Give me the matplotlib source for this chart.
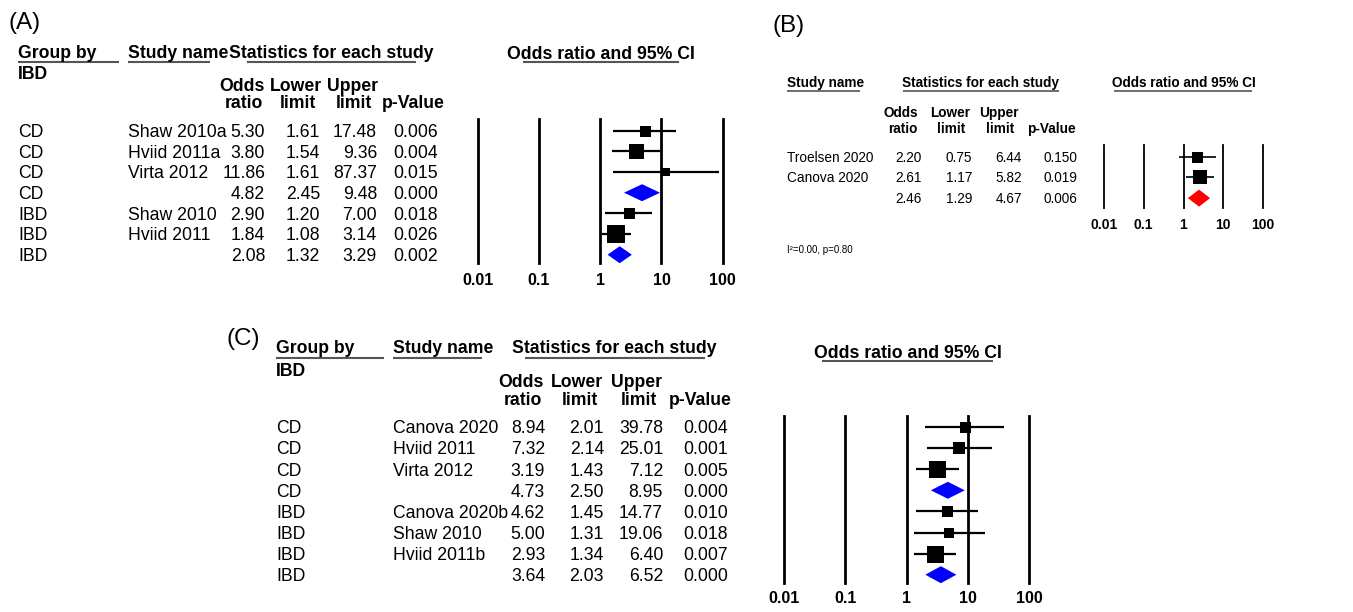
import numpy as np
import matplotlib
matplotlib.use('Agg')
import matplotlib.pyplot as plt

plt.rcParams['font.family'] = ['Liberation Sans', 'DejaVu Sans']

# ---- data: panel A (Group by IBD) ----
A_group = ['CD', 'CD', 'CD', 'CD', 'IBD', 'IBD', 'IBD']
A_study = ['Shaw 2010a', 'Hviid 2011a', 'Virta 2012', '', 'Shaw 2010', 'Hviid 2011', '']
A_or = [5.30, 3.80, 11.86, 4.82, 2.90, 1.84, 2.08]
A_lo = [1.61, 1.54, 1.61, 2.45, 1.20, 1.08, 1.32]
A_hi = [17.48, 9.36, 87.37, 9.48, 7.00, 3.14, 3.29]
A_p = [0.006, 0.004, 0.015, 0.000, 0.018, 0.026, 0.002]
A_summary = [False, False, False, True, False, False, True]
A_box = [11, 15, 8, 0, 11, 18, 0]

# ---- data: panel B ----
B_study = ['Troelsen 2020', 'Canova 2020', '']
B_or = [2.20, 2.61, 2.46]
B_lo = [0.75, 1.17, 1.29]
B_hi = [6.44, 5.82, 4.67]
B_p = [0.150, 0.019, 0.006]
B_summary = [False, False, True]
B_box = [11, 14, 0]
B_het = 'I\u00b2=0.00, p=0.80'

# ---- data: panel C (Group by IBD) ----
C_group = ['CD', 'CD', 'CD', 'CD', 'IBD', 'IBD', 'IBD', 'IBD']
C_study = ['Canova 2020', 'Hviid 2011', 'Virta 2012', '', 'Canova 2020b',
           'Shaw 2010', 'Hviid 2011b', '']
C_or = [8.94, 7.32, 3.19, 4.73, 4.62, 5.00, 2.93, 3.64]
C_lo = [2.01, 2.14, 1.43, 2.50, 1.45, 1.31, 1.34, 2.03]
C_hi = [39.78, 25.01, 7.12, 8.95, 14.77, 19.06, 6.40, 6.52]
C_p = [0.004, 0.001, 0.005, 0.000, 0.010, 0.018, 0.007, 0.000]
C_summary = [False, False, False, True, False, False, False, True]
C_box = [11, 12, 17, 0, 11, 10, 17, 0]

scale_ticks = [0.01, 0.1, 1, 10, 100]
scale_labels = ['0.01', '0.1', '1', '10', '100']

W, H = 1353, 612
fig = plt.figure(figsize=(W / 100, H / 100), dpi=100)

# overlay in pixel coords for the table text
bg = fig.add_axes([0, 0, 1, 1])
bg.set_xlim(0, W)
bg.set_ylim(H, 0)
bg.axis('off')

UL = '#555555'


def underline(x0, x1, y, lw=1.5):
    bg.plot([x0, x1], [y, y], color=UL, lw=lw, solid_capstyle='butt')


def forest(x0, x1, ytop, ybot, row0, drow, ors, los, his, summ, box,
           dcolor, vlw, cilw, tick_fs, tick_pad):
    ax = fig.add_axes([x0 / W, 1 - ybot / H, (x1 - x0) / W, (ybot - ytop) / H])
    ax.patch.set_alpha(0)
    ax.set_xscale('log')
    ax.set_xlim(scale_ticks[0], scale_ticks[-1])
    ax.set_ylim((ybot - row0) / drow, (ytop - row0) / drow)
    for s in ax.spines.values():
        s.set_visible(False)
    for t in scale_ticks:
        ax.axvline(t, color='black', lw=vlw, clip_on=False, zorder=1)
    ax.minorticks_off()
    ax.set_xticks(scale_ticks, scale_labels)
    ax.tick_params(axis='x', length=0, pad=tick_pad, labelsize=tick_fs)
    for lab in ax.get_xticklabels():
        lab.set_fontweight('bold')
    ax.set_yticks([])
    rows = np.arange(len(ors))
    hd = 8.5 / drow
    for r in rows:
        if summ[r]:
            ax.fill([los[r], ors[r], his[r], ors[r]], [r, r - hd, r, r + hd],
                    color=dcolor, lw=0, zorder=3, clip_on=False)
        else:
            ax.hlines(r, los[r], his[r], color='black', lw=cilw, zorder=2,
                      clip_on=False)
            ax.scatter([ors[r]], [r], marker='s', s=(box[r] * 0.72) ** 2,
                       color='black', zorder=4, clip_on=False, linewidths=0)
    return ax


def table(rows_base, drow, cols, fs, bold=False):
    for i in range(len(cols[0][1])):
        y = rows_base + i * drow
        for x, vals, ha in cols:
            bg.text(x, y, vals[i], ha=ha, va='baseline', fontsize=fs,
                    fontweight='bold' if bold else 'normal')


# ---------------- panel A ----------------
FS = 12.7
bg.text(8, 28.5, '(A)', fontsize=17.5, va='baseline')
bg.text(18, 57.5, 'Group by', fontsize=FS, fontweight='bold', va='baseline')
bg.text(128, 57.5, 'Study name', fontsize=FS, fontweight='bold', va='baseline')
bg.text(229, 57.5, 'Statistics for each study', fontsize=FS, fontweight='bold', va='baseline')
underline(18, 119, 61.7)
underline(128, 210, 61.7)
underline(247, 416, 61.7)
bg.text(18, 79, 'IBD', fontsize=FS, fontweight='bold', va='baseline')
for xc, top, bot in [(242, 'Odds', 'ratio'), (296, 'Lower', 'limit'),
                     (352, 'Upper', 'limit')]:
    bg.text(xc, 90.7, top, fontsize=FS, fontweight='bold', ha='center', va='baseline')
    bg.text(xc + 2, 108, bot, fontsize=FS, fontweight='bold', ha='center', va='baseline')
bg.text(413, 108, 'p-Value', fontsize=FS, fontweight='bold', ha='center', va='baseline')
bg.text(600.5, 59, 'Odds ratio and 95% CI', fontsize=FS, fontweight='bold',
        ha='center', va='baseline')
underline(523, 679, 62.3)
table(137, 20.67, [
    (18, A_group, 'left'),
    (128, A_study, 'left'),
    (265, ['%.2f' % v for v in A_or], 'right'),
    (320, ['%.2f' % v for v in A_lo], 'right'),
    (377, ['%.2f' % v for v in A_hi], 'right'),
    (438, ['%.3f' % v for v in A_p], 'right'),
], FS)
forest(477.7, 722.7, 119, 263, 130.7, 20.67, A_or, A_lo, A_hi, A_summary,
       A_box, '#0000ff', 2.0, 1.6, 11.5, 7)

# ---------------- panel B ----------------
FSB = 9.8
bg.text(773, 32, '(B)', fontsize=17.5, va='baseline')
bg.text(787, 87.3, 'Study name', fontsize=FSB, fontweight='bold', va='baseline')
bg.text(981, 87.3, 'Statistics for each study', fontsize=FSB, fontweight='bold',
        ha='center', va='baseline')
bg.text(1183.5, 87.3, 'Odds ratio and 95% CI', fontsize=FSB, fontweight='bold',
        ha='center', va='baseline')
underline(787, 860, 90.7, 1.2)
underline(903, 1059, 90.7, 1.2)
underline(1114, 1252, 90.7, 1.2)
for xc, top, bot in [(901, 'Odds', 'ratio'), (950, 'Lower', 'limit'),
                     (999, 'Upper', 'limit')]:
    bg.text(xc, 116.7, top, fontsize=FSB, fontweight='bold', ha='center', va='baseline')
    bg.text(xc + 1.5, 133, bot, fontsize=FSB, fontweight='bold', ha='center', va='baseline')
bg.text(1051, 133, 'p-Value', fontsize=FSB, fontweight='bold', ha='center', va='baseline')
table(161.7, 20.8, [
    (787, B_study, 'left'),
    (922, ['%.2f' % v for v in B_or], 'right'),
    (972, ['%.2f' % v for v in B_lo], 'right'),
    (1022, ['%.2f' % v for v in B_hi], 'right'),
    (1077, ['%.3f' % v for v in B_p], 'right'),
], FSB)
bg.text(787, 253, B_het, fontsize=7, va='baseline')
forest(1104, 1263, 145, 208, 156.5, 20.8, B_or, B_lo, B_hi, B_summary,
       B_box, '#ff0000', 1.3, 1.2, 10, 7)

# ---------------- panel C ----------------
bg.text(227, 345, '(C)', fontsize=17.5, va='baseline')
bg.text(276, 353, 'Group by', fontsize=FS, fontweight='bold', va='baseline')
bg.text(393, 353, 'Study name', fontsize=FS, fontweight='bold', va='baseline')
bg.text(512, 353, 'Statistics for each study', fontsize=FS, fontweight='bold', va='baseline')
underline(276, 384, 358.3)
underline(393, 482, 358.3)
underline(525, 705, 358.3)
bg.text(276, 376, 'IBD', fontsize=FS, fontweight='bold', va='baseline')
for xc, top, bot in [(520.5, 'Odds', 'ratio'), (577, 'Lower', 'limit'),
                     (636, 'Upper', 'limit')]:
    bg.text(xc, 386.7, top, fontsize=FS, fontweight='bold', ha='center', va='baseline')
    bg.text(xc + 2.5, 405, bot, fontsize=FS, fontweight='bold', ha='center', va='baseline')
bg.text(700, 405, 'p-Value', fontsize=FS, fontweight='bold', ha='center', va='baseline')
bg.text(907.5, 358, 'Odds ratio and 95% CI', fontsize=FS, fontweight='bold',
        ha='center', va='baseline')
underline(822, 993, 360.5)
table(433.3, 21.1, [
    (276, C_group, 'left'),
    (393, C_study, 'left'),
    (545, ['%.2f' % v for v in C_or], 'right'),
    (604, ['%.2f' % v for v in C_lo], 'right'),
    (663, ['%.2f' % v for v in C_hi], 'right'),
    (728, ['%.3f' % v for v in C_p], 'right'),
], FS)
forest(784, 1029, 416, 583, 427, 21.1, C_or, C_lo, C_hi, C_summary,
       C_box, '#0000ff', 2.0, 1.6, 11.5, 6)

fig.savefig('out.png', dpi=100)
